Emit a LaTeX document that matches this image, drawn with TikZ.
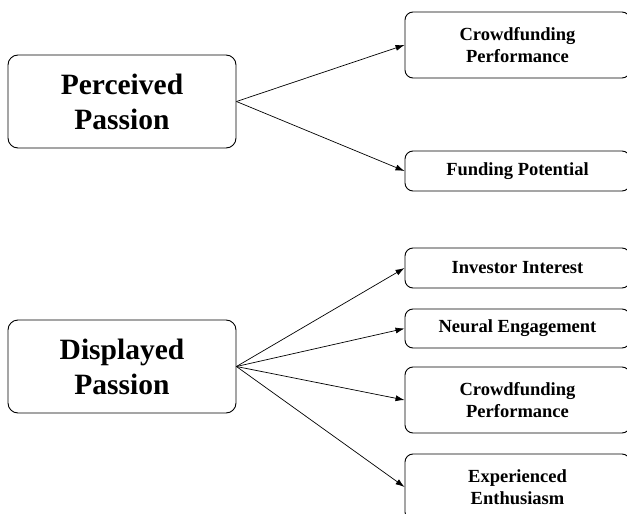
\documentclass[tikz,border=0pt]{standalone}
\usepackage{fontspec}
\setmainfont{Liberation Serif}
\usetikzlibrary{arrows.meta}

\tikzset{
  bigbox/.style={draw, rounded corners=10pt, line width=0.9pt, align=center, inner sep=0pt,
    minimum width=228pt, minimum height=93pt, font=\bfseries\fontsize{29.5}{35}\selectfont},
  smallbox/.style={draw, rounded corners=8pt, line width=0.9pt, align=center, inner sep=0pt,
    minimum width=225pt, font=\bfseries\fontsize{18.5}{22.5}\selectfont},
  link/.style={line width=0.7pt, -{Latex[length=9pt,width=6pt]}}
}

\begin{document}
\begin{tikzpicture}[x=1pt,y=-1pt]
  \useasboundingbox (0,0) rectangle (627,514);
  % left side
  \node[bigbox] (perc) at (122,101.5) {Perceived\\Passion};
  \node[bigbox] (disp) at (122,366.5) {Displayed\\Passion};
  % right side
  \node[smallbox, minimum height=66pt] (crowdA) at (517.5,45) {Crowdfunding\\Performance};
  \node[smallbox, minimum height=40pt] (fund) at (517.5,171) {Funding Potential};
  \node[smallbox, minimum height=40pt] (invest) at (517.5,268) {Investor Interest};
  \node[smallbox, minimum height=39pt] (neural) at (517.5,328.5) {Neural Engagement};
  \node[smallbox, minimum height=66pt] (crowdB) at (517.5,400) {Crowdfunding\\Performance};
  \node[smallbox, minimum height=66pt] (enthus) at (517.5,487) {Experienced\\Enthusiasm};
  % arrows
  \foreach \t in {crowdA,fund}
    \draw[link] (perc.east) -- (\t.west);
  \foreach \t in {invest,neural,crowdB,enthus}
    \draw[link] (disp.east) -- (\t.west);
\end{tikzpicture}
\end{document}
